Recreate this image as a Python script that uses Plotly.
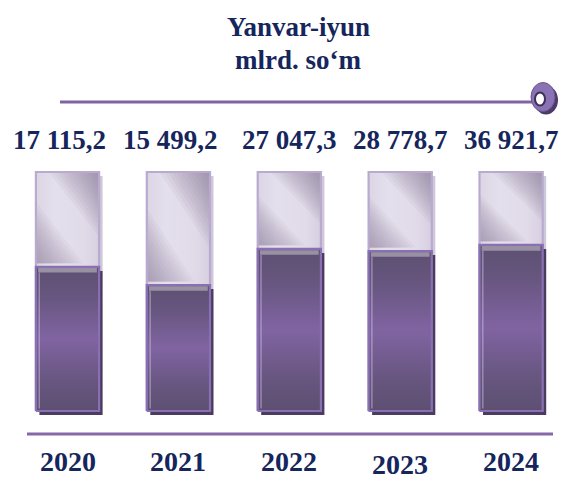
import plotly.graph_objects as go

# ---------------- data ----------------
years = ["2020", "2021", "2022", "2023", "2024"]
values = [17115.2, 15499.2, 27047.3, 28778.7, 36921.7]
value_labels = ["17 115,2", "15 499,2", "27 047,3", "28 778,7", "36 921,7"]
fill_pct = [60.3, 52.7, 67.8, 66.9, 69.5]      # purple fill level (% of glass)
glass_pct = [100, 100, 100, 100, 100]
title_lines = ["Yanvar-iyun", "mlrd. so‘m"]

# ---------------- layout helpers ----------------
W, H = 569, 480
X_PX0, X_PXU = 67.5, 110.9      # pixel of first category, pixels per category
Y_PX0, Y_PXU = 411.0, 2.39      # pixel of 0 %, pixels per %
xr = [-X_PX0 / X_PXU, (W - X_PX0) / X_PXU]
yr = [-(H - Y_PX0) / Y_PXU, Y_PX0 / Y_PXU]

HALF = 0.285
SDX, SDY = 3.5 / X_PXU, -4.0 / Y_PXU

TXT = "#16265c"
FONT = "Liberation Serif, Times New Roman, serif"


def rect(xc, y0, y1, dx=0.0, dy=0.0, half=HALF):
    xs = [xc - half + dx, xc + half + dx, xc + half + dx, xc - half + dx, xc - half + dx]
    ys = [y0 + dy, y0 + dy, y1 + dy, y1 + dy, y0 + dy]
    return xs, ys


fig = go.Figure()


def poly(xs, ys, color=None, grad=None, line_color=None, lw=0):
    kw = dict(x=xs, y=ys, mode="lines", fill="toself", hoverinfo="skip", showlegend=False,
              line=dict(width=lw, color=line_color or "rgba(0,0,0,0)"))
    if grad is not None:
        kw["fillgradient"] = grad
    else:
        kw["fillcolor"] = color
    fig.add_trace(go.Scatter(**kw))


purple_grad = dict(type="vertical",
                   colorscale=[[0, "#5d4f72"], [0.2, "#67567f"], [0.5, "#8064a2"],
                               [0.8, "#67567f"], [1, "#5d4f72"]])
glass_grad = dict(type="horizontal",
                  colorscale=[[0, "#dcd6e4"], [0.3, "#e4dfec"], [0.75, "#e1dbe9"], [1, "#d6cfe0"]])

STEPS = 12
for i, (g, f) in enumerate(zip(glass_pct, fill_pct)):
    vis = g - f
    w = 2 * HALF
    # glass shadow
    xs, ys = rect(i, f, g, dx=SDX, dy=SDY)
    poly(xs, ys, color="#cfc8d8")
    # glass body
    xs, ys = rect(i, 0, g)
    poly(xs, ys, grad=glass_grad)
    # soft top-right reflection (nested triangles)
    for k in range(STEPS):
        s = 1 - k / STEPS
        poly([i + HALF, i + HALF - 0.8 * w * s, i + HALF, i + HALF],
             [g, g, g - 0.68 * vis * s, g], color="rgba(135,125,150,0.075)")
    # soft bottom-left reflection
    for k in range(STEPS):
        s = 1 - k / STEPS
        poly([i - HALF, i - HALF + 0.75 * w * s, i - HALF, i - HALF],
             [f + 1.5, f + 1.5, f + 1.5 + 0.65 * vis * s, f + 1.5], color="rgba(135,125,150,0.07)")
    # glass border
    xs, ys = rect(i, 0, g)
    fig.add_trace(go.Scatter(x=xs, y=ys, mode="lines", line=dict(color="#b9aad2", width=2.2),
                             hoverinfo="skip", showlegend=False))
    # purple shadow
    xs, ys = rect(i, 0, f, dx=SDX, dy=SDY)
    poly(xs, ys, color="#4a3c5f")
    # purple body
    xs, ys = rect(i, 0, f)
    poly(xs, ys, grad=purple_grad, line_color="#8a70b3", lw=2.2)
    # grey strip at top of fill
    xs, ys = rect(i, f - 2.4, f - 0.5, half=HALF - 0.02)
    poly(xs, ys, color="#9890a3")
    # left highlight
    fig.add_trace(go.Scatter(x=[i - HALF + 0.03, i - HALF + 0.03], y=[1, f - 2.5], mode="lines",
                             line=dict(color="rgba(220,210,240,0.55)", width=1.2),
                             hoverinfo="skip", showlegend=False))


def px_x(p):
    return (p - X_PX0) / X_PXU


def px_y(p):
    return (Y_PX0 - p) / Y_PXU


# value labels
for i, lab in enumerate(value_labels):
    fig.add_annotation(x=i - 0.07 if i < 2 else i, y=px_y(140), text=f"<b>{lab}</b>", showarrow=False,
                       font=dict(family=FONT, size=27, color=TXT), xanchor="center", yanchor="middle")

# year labels
for i, yr_lab in enumerate(years):
    yy = px_y(464) if yr_lab == "2023" else px_y(461)
    fig.add_annotation(x=i, y=yy, text=f"<b>{yr_lab}</b>", showarrow=False,
                       font=dict(family=FONT, size=28, color=TXT), xanchor="center", yanchor="middle")

# title
fig.add_annotation(x=px_x(298), y=px_y(27), text=f"<b>{title_lines[0]}</b>", showarrow=False,
                   font=dict(family=FONT, size=27, color=TXT), xanchor="center", yanchor="middle")
fig.add_annotation(x=px_x(298), y=px_y(60), text=f"<b>{title_lines[1]}</b>", showarrow=False,
                   font=dict(family=FONT, size=27, color=TXT), xanchor="center", yanchor="middle")

# top line and ring
fig.add_shape(type="line", x0=px_x(60), x1=px_x(535), y0=px_y(102), y1=px_y(102),
              line=dict(color="#8064a2", width=3))
fig.add_shape(type="circle", xsizemode="pixel", ysizemode="pixel", xanchor=px_x(546), yanchor=px_y(100),
              x0=-12, x1=12, y0=-14.5, y1=14.5, fillcolor="#4b3b66", line=dict(width=0))
fig.add_shape(type="circle", xsizemode="pixel", ysizemode="pixel", xanchor=px_x(543), yanchor=px_y(97),
              x0=-12, x1=12, y0=-14.5, y1=14.5, fillcolor="#8b72b5", line=dict(color="#6a5590", width=1))
fig.add_shape(type="circle", xsizemode="pixel", ysizemode="pixel", xanchor=px_x(540), yanchor=px_y(99),
              x0=-5, x1=5, y0=-6.5, y1=6.5, fillcolor="#ffffff", line=dict(color="#3f3058", width=2))

# bottom baseline
fig.add_shape(type="line", x0=px_x(27), x1=px_x(553), y0=px_y(434), y1=px_y(434),
              line=dict(color="#8468a8", width=3))

fig.update_layout(
    width=W, height=H, margin=dict(l=0, r=0, t=0, b=0),
    paper_bgcolor="white", plot_bgcolor="white",
    xaxis=dict(range=xr, visible=False, fixedrange=True),
    yaxis=dict(range=yr, visible=False, fixedrange=True),
    showlegend=False,
)

fig.write_html("out.html", config={"displayModeBar": False},
               post_script="document.body.style.margin='0';document.body.style.overflow='hidden';")
